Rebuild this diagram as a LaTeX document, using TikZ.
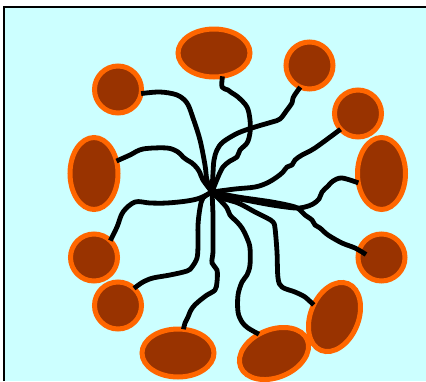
\documentclass[tikz,border=0pt]{standalone}
\usepackage{xcolor}
\usepackage{tikz}
\usetikzlibrary{shapes.geometric}

\definecolor{cellfill}{HTML}{993300}
\definecolor{cellring}{HTML}{FF6600}
\definecolor{water}{HTML}{CCFFFF}

\begin{document}
\begin{tikzpicture}[x=1pt, y=-1pt,
    cell/.style={ellipse, draw=cellring, fill=cellfill, line width=5pt, minimum width=47pt, minimum height=47pt, inner sep=0pt, outer sep=0pt},
    wide/.style={cell, minimum width=72pt, minimum height=48pt},
    tall/.style={cell, minimum width=48pt, minimum height=72pt},
    wire/.style={line width=4.8pt, line join=round, smooth, tension=0.55}
]
\useasboundingbox (0,0) rectangle (426,381);
\fill[water] (4,7) rectangle (426,381);
\draw[line width=2pt] (4,381) -- (4,7) -- (426,7);

% cells round the hub
\node[wide] (twelve) at (214,53) {};
\node[cell] (one) at (309.5,65.5) {};
\node[cell] (two) at (358,113.5) {};
\node[tall] (three) at (381.5,173.5) {};
\node[cell] (four) at (381.5,257.5) {};
\node[tall, rotate=-22] (five) at (334.5,317) {};
\node[wide, rotate=22] (six) at (274,353.5) {};
\node[wide] (seven) at (178,353) {};
\node[cell] (eight) at (118,305.5) {};
\node[cell] (nine) at (94,257.5) {};
\node[tall] (ten) at (94,173.5) {};
\node[cell] (eleven) at (118,89.5) {};
\coordinate (hub) at (212,192);

% wires
\draw[wire] plot coordinates {(hub) (207,180) (205,165) (200,140) (193,118) (187,103) (177,95) (160,92) (eleven.-10)};
\draw[wire] plot coordinates {(hub) (218,177) (223,167) (230,161) (237,157) (240,150) (247,143) (250,133) (250,120) (247,107) (238,97) (232,93) (228,90) (222,87) (twelve.-70)};
\draw[wire] plot coordinates {(hub) (213,173) (214,160) (217,150) (223,142) (238,133) (255,127) (272,122) (280,119) (287,110) (292,103) (293,98) (296,93) (one.-113)};
\draw[wire] plot coordinates {(hub) (235,189) (255,187) (267,183) (277,177) (283,172) (287,167) (292,165) (295,160) (302,155) (315,148) (two.-138)};
\draw[wire] plot coordinates {(hub) (218,195) (245,200) (272,205) (295,208) (305,207) (313,204) (319,199) (322,192) (328,186) (333,181) (342,178) (three.-158)};
\draw[wire] plot coordinates {(hub) (238,197) (272,202) (295,207) (302,212) (305,215) (312,220) (315,225) (320,228) (328,235) (342,243) (355,248) ([xshift=8pt,yshift=3pt]four.west)};
\draw[wire] plot coordinates {(hub) (218,197) (238,203) (255,212) (267,218) (273,222) (275,228) (277,252) (278,278) (282,287) (295,292) (305,297) (five.172)};
\draw[wire] plot coordinates {(hub) (220,200) (227,208) (230,215) (237,222) (242,228) (247,238) (250,248) (250,265) (247,275) (242,282) (238,295) (238,312) (242,322) (248,328) (six.106)};
\draw[wire] plot coordinates {(hub) (213,215) (213,235) (213,252) (212,263) (217,270) (217,282) (215,290) (207,295) (198,302) (193,307) (190,312) (188,317) (185,323) (seven.77)};
\draw[wire] plot coordinates {(hub) (203,198) (200,208) (198,225) (198,245) (197,258) (192,267) (187,271) (170,275) (153,278) (143,282) (eight.47)};
\draw[wire] plot coordinates {(hub) (200,198) (187,201) (167,203) (150,203) (135,202) (123,212) (117,227) (nine.46)};
\draw[wire] plot coordinates {(hub) (203,180) (200,173) (197,168) (192,163) (187,160) (183,157) (178,152) (167,148) (143,149) (130,155) (ten.29)};
\end{tikzpicture}
\end{document}
